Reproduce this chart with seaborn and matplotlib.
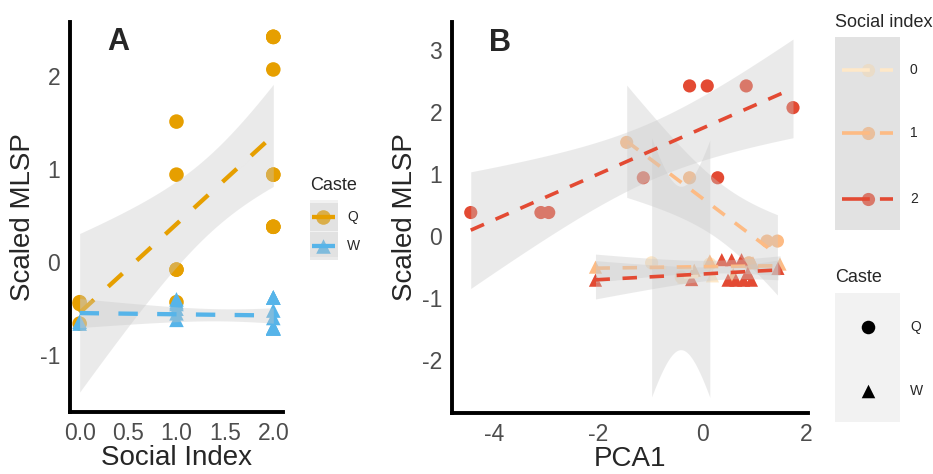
import numpy as np
import pandas as pd
import matplotlib
matplotlib.use("Agg")
import matplotlib.pyplot as plt
from matplotlib.patches import Rectangle
import seaborn as sns

# ---------------------------------
# Data
# ---------------------------------
caste = ["Q"] * 17 + ["W"] * 19
social_index = ([0, 0, 0] + [1] * 5 + [2] * 9 +
                [0, 0] + [1] * 6 + [2] * 11)
pca1 = [-0.97, -0.40, 0.15,
        -1.45, -0.24, 0.90, 1.25, 1.45,
        -4.45, -3.10, -2.95, -1.13, -0.24, 0.10, 0.85, 1.75, 0.30,
        -0.35, 0.20,
        -2.05, -0.15, 0.15, 0.60, 0.98, 1.50,
        -2.05, 0.38, 0.57, 0.76, 0.50, 0.65, 0.80, 0.95, 1.46, 0.88, -0.20]
mlsp = [-0.43, -0.66, -0.45,
        1.51, 0.94, -0.43, -0.08, -0.08,
        0.38, 0.38, 0.38, 0.94, 2.42, 2.42, 2.42, 2.07, 0.94,
        -0.66, -0.64,
        -0.50, -0.55, -0.40, -0.62, -0.43, -0.45,
        -0.71, -0.38, -0.38, -0.38, -0.71, -0.71, -0.71, -0.71, -0.52, -0.60, -0.70]

caste_levels = ["Q", "W"]
si_levels = [0, 1, 2]
caste_colors = {"Q": "#E69F00", "W": "#56B4E9"}
si_colors = {0: "#FEE8C8", 1: "#FDBB84", 2: "#E34A33"}
caste_markers = {"Q": "o", "W": "^"}

df = pd.DataFrame({"caste": caste, "social_index": social_index,
                   "pca1": pca1, "mlsp": mlsp})

BAND = "#C8C8C8"
BAND_ALPHA = 0.37

# two-sided 95% t quantiles (no scipy here)
T975 = {1: 12.706, 2: 4.303, 3: 3.182, 4: 2.776, 5: 2.571, 6: 2.447, 7: 2.365,
        8: 2.306, 9: 2.262, 10: 2.228, 11: 2.201, 12: 2.179, 13: 2.160,
        14: 2.145, 15: 2.131, 16: 2.120, 17: 2.110, 18: 2.101, 19: 2.093, 20: 2.086}


def draw_lm(ax, x, y, color, z, lw, dashes):
    # linear fit + 95% confidence ribbon, like geom_smooth(method = "lm")
    x = np.asarray(x, float)
    y = np.asarray(y, float)
    n = len(x)
    slope, icpt = np.polyfit(x, y, 1)
    xs = np.linspace(x.min(), x.max(), 100)
    fit = icpt + slope * xs
    if n > 2:
        resid = y - (icpt + slope * x)
        s = np.sqrt((resid ** 2).sum() / (n - 2))
        sxx = ((x - x.mean()) ** 2).sum()
        half = T975[n - 2] * s * np.sqrt(1 / n + (xs - x.mean()) ** 2 / sxx)
        ax.fill_between(xs, fit - half, fit + half, color=BAND, alpha=BAND_ALPHA,
                        lw=0, zorder=z)
    ax.plot(xs, fit, color=color, lw=lw, dashes=dashes, zorder=z + 1,
            solid_capstyle="butt", dash_capstyle="butt")


def style_axes(ax):
    sns.despine(ax=ax)
    for side in ["left", "bottom"]:
        ax.spines[side].set_linewidth(2.8)
        ax.spines[side].set_color("black")
    ax.tick_params(axis="both", length=4, width=1, color="#333333",
                   labelcolor="#4D4D4D", labelsize=16.5, pad=3)


sns.set_style("white")
plt.rcParams["font.family"] = ["Liberation Sans", "DejaVu Sans"]
plt.rcParams["axes.unicode_minus"] = False

fig = plt.figure(figsize=(9.33, 4.74), dpi=100)
axA = fig.add_axes([0.075, 0.1308, 0.2283, 0.8228])
axB = fig.add_axes([0.4845, 0.1287, 0.3816, 0.8249])

# ---------------------------------
# Panel A: MLSP vs social index
# ---------------------------------
sns.scatterplot(data=df, x="social_index", y="mlsp", hue="caste", style="caste",
                palette=caste_colors, markers=caste_markers, s=110, linewidth=0,
                legend=False, ax=axA, zorder=2)
for i, c in enumerate(caste_levels):
    sub = df[df["caste"] == c]
    draw_lm(axA, sub["social_index"], sub["mlsp"], caste_colors[c], 3 + 2 * i,
            3.1, (4.5, 4.5))

axA.set_xlim(-0.1, 2.1)
axA.set_ylim(-1.61, 2.58)
axA.set_xticks([0, 0.5, 1, 1.5, 2])
axA.set_xticklabels(["0.0", "0.5", "1.0", "1.5", "2.0"])
axA.set_yticks([-1, 0, 1, 2])
axA.set_xlabel("Social Index", fontsize=20, labelpad=0)
axA.set_ylabel("Scaled MLSP", fontsize=20, labelpad=3)
style_axes(axA)
axA.text(0.225, 0.949, "A", transform=axA.transAxes, fontsize=22,
         fontweight="bold", ha="center", va="center")

# ---------------------------------
# Panel B: MLSP vs PCA1
# ---------------------------------
sns.scatterplot(data=df, x="pca1", y="mlsp", hue="social_index", style="caste",
                palette=si_colors, markers=caste_markers, s=90, linewidth=0,
                legend=False, ax=axB, zorder=2)
z = 3
for si in si_levels:
    for c in caste_levels:
        sub = df[(df["social_index"] == si) & (df["caste"] == c)]
        draw_lm(axB, sub["pca1"], sub["mlsp"], si_colors[si], z, 2.6, (4, 3.5))
        z += 2

axB.set_xlim(-4.81, 2.04)
axB.set_ylim(-2.85, 3.45)
axB.set_xticks([-4, -2, 0, 2])
axB.set_yticks([-2, -1, 0, 1, 2, 3])
axB.set_xlabel("PCA1", fontsize=20, labelpad=0)
axB.set_ylabel("Scaled MLSP", fontsize=20, labelpad=3)
style_axes(axB)
axB.text(0.135, 0.946, "B", transform=axB.transAxes, fontsize=22,
         fontweight="bold", ha="center", va="center")

# ---------------------------------
# Legends (ggplot style, drawn in pixel coordinates)
# ---------------------------------
leg = fig.add_axes([0, 0, 1, 1])
leg.set_xlim(0, 933)
leg.set_ylim(474, 0)
leg.axis("off")
leg.patch.set_alpha(0)

# panel A caste legend
leg.text(310, 185, "Caste", fontsize=13, ha="left", va="center")
leg.add_patch(Rectangle((310, 200), 28, 57, facecolor="#F2F2F2", lw=0, zorder=1))
for key_y, c in zip([217, 246], caste_levels):
    leg.scatter([323], [key_y], s=110, marker=caste_markers[c],
                color=caste_colors[c], linewidth=0, zorder=2)
    leg.add_patch(Rectangle((310, key_y - 14), 28, 28, facecolor=BAND,
                            alpha=BAND_ALPHA, lw=0, zorder=3))
    leg.plot([312, 335], [key_y, key_y], color=caste_colors[c], lw=3.1,
             solid_capstyle="butt", zorder=4)
    leg.text(347, key_y, c, fontsize=10, ha="left", va="center")

# social index legend
leg.text(835, 22, "Social index", fontsize=13, ha="left", va="center")
leg.add_patch(Rectangle((835, 37), 65, 193, facecolor="#F2F2F2", lw=0, zorder=1))
leg.add_patch(Rectangle((835, 37), 65, 193, facecolor=BAND, alpha=BAND_ALPHA,
                        lw=0, zorder=3))
for key_y, si in zip([70, 133, 199], si_levels):
    leg.scatter([868], [key_y], s=90, marker="o", color=si_colors[si],
                linewidth=0, zorder=2)
    leg.plot([842, 893], [key_y, key_y], color=si_colors[si], lw=2.6,
             dashes=(7.7, 2.8), zorder=4)
    leg.text(910, key_y, str(si), fontsize=10, ha="left", va="center")

# shape legend
leg.text(835, 277, "Caste", fontsize=13, ha="left", va="center")
leg.add_patch(Rectangle((835, 293), 65, 129, facecolor="#F2F2F2", lw=0, zorder=1))
for key_y, c in zip([327, 391], caste_levels):
    leg.scatter([868], [key_y], s=95, marker=caste_markers[c], color="black",
                linewidth=0, zorder=2)
    leg.text(910, key_y, c, fontsize=10, ha="left", va="center")

plt.savefig("out.png", dpi=100)
